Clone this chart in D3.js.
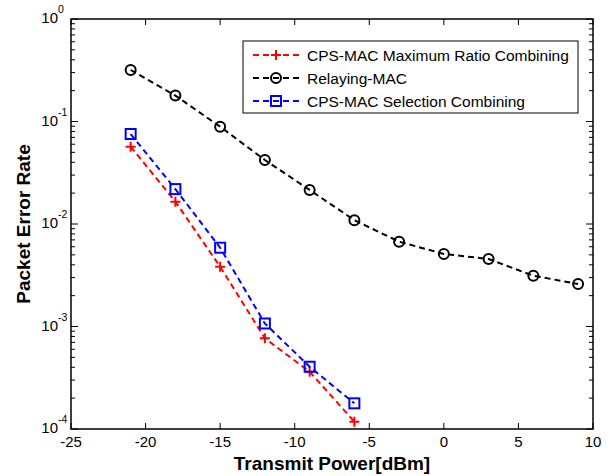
<!DOCTYPE html>
<html>
<head>
<meta charset="utf-8">
<script src="https://cdn.jsdelivr.net/npm/d3@7"></script>
<style>
  body { margin: 0; background: #fff; }
  svg { font-family: "Liberation Sans", Arial, sans-serif; }
</style>
</head>
<body>
<svg width="615" height="476"></svg>
<script>
document.addEventListener("DOMContentLoaded", function () {

  var power = [-21, -18, -15, -12, -9, -6, -3, 0, 3, 6, 9]
  var mrcPer = [0.0568, 0.0165, 0.00383, 0.000767, 0.000362, 0.000118]
  var relayPer = [0.318, 0.179, 0.089, 0.0421, 0.0215, 0.0109, 0.00672, 0.0051, 0.00456, 0.00313, 0.0026]
  var scPer = [0.0755, 0.0219, 0.00587, 0.00107, 0.000405, 0.000178]
  var xTicks = [-25, -20, -15, -10, -5, 0, 5, 10]
  var yTicks = [0, -1, -2, -3, -4]

  var series = [
    { name: "CPS-MAC Maximum Ratio Combining", color: "#ff0000", marker: "plus", values: mrcPer },
    { name: "Relaying-MAC", color: "#000000", marker: "circle", values: relayPer },
    { name: "CPS-MAC Selection Combining", color: "#0000ff", marker: "square", values: scPer }
  ]

  var left = 71, right = 593, top = 19, bottom = 429

  var xScale = d3.scaleLinear().domain([-25, 10]).range([left, right])
  var yScale = d3.scaleLog().domain([1e-4, 1]).range([bottom, top])

  var svg = d3.select("svg")

  // minor log ticks
  var minor = []
  for (var e = -4; e < 0; e++) {
    for (var m = 2; m <= 9; m++) minor.push(m * Math.pow(10, e))
  }
  svg.append("g").selectAll("line")
    .data(minor)
    .enter()
    .append("line")
    .attr("x1", left).attr("x2", left + 4)
    .attr("y1", function (d) { return yScale(d) })
    .attr("y2", function (d) { return yScale(d) })
    .attr("stroke", "#000")
  svg.append("g").selectAll("line")
    .data(minor)
    .enter()
    .append("line")
    .attr("x1", right).attr("x2", right - 4)
    .attr("y1", function (d) { return yScale(d) })
    .attr("y2", function (d) { return yScale(d) })
    .attr("stroke", "#000")

  // major y ticks
  svg.append("g").selectAll("line")
    .data(yTicks)
    .enter()
    .append("line")
    .attr("x1", left).attr("x2", left + 7)
    .attr("y1", function (d) { return yScale(Math.pow(10, d)) })
    .attr("y2", function (d) { return yScale(Math.pow(10, d)) })
    .attr("stroke", "#000")
  svg.append("g").selectAll("line")
    .data(yTicks)
    .enter()
    .append("line")
    .attr("x1", right).attr("x2", right - 7)
    .attr("y1", function (d) { return yScale(Math.pow(10, d)) })
    .attr("y2", function (d) { return yScale(Math.pow(10, d)) })
    .attr("stroke", "#000")

  // x ticks bottom & top
  var xTickLines = svg.append("g")
  xTickLines.selectAll("line.b")
    .data(xTicks)
    .enter()
    .append("line")
    .attr("class", "b")
    .attr("x1", function (d) { return xScale(d) })
    .attr("x2", function (d) { return xScale(d) })
    .attr("y1", bottom).attr("y2", bottom - 6)
    .attr("stroke", "#000")
  xTickLines.selectAll("line.t")
    .data(xTicks)
    .enter()
    .append("line")
    .attr("class", "t")
    .attr("x1", function (d) { return xScale(d) })
    .attr("x2", function (d) { return xScale(d) })
    .attr("y1", top).attr("y2", top + 6)
    .attr("stroke", "#000")

  // frame
  svg.append("rect")
    .attr("x", left).attr("y", top)
    .attr("width", right - left).attr("height", bottom - top)
    .attr("fill", "none")
    .attr("stroke", "#000")
    .attr("stroke-width", 1.5)

  // x tick labels
  svg.append("g").selectAll("text")
    .data(xTicks)
    .enter()
    .append("text")
    .attr("x", function (d) { return xScale(d) })
    .attr("y", 447)
    .attr("text-anchor", "middle")
    .style("font-size", "15px")
    .text(function (d) { return d })

  // y tick labels 10^n
  svg.append("g").selectAll("text")
    .data(yTicks)
    .enter()
    .append("text")
    .attr("x", 58)
    .attr("y", function (d) { return yScale(Math.pow(10, d)) + 4 })
    .attr("text-anchor", "end")
    .style("font-size", "15px")
    .text("10")
  svg.append("g").selectAll("text")
    .data(yTicks)
    .enter()
    .append("text")
    .attr("x", 58)
    .attr("y", function (d) { return yScale(Math.pow(10, d)) - 6 })
    .style("font-size", "10.5px")
    .text(function (d) { return d })

  // axis titles
  svg.append("text")
    .attr("x", (left + right) / 2)
    .attr("y", 470)
    .attr("text-anchor", "middle")
    .style("font-size", "19px")
    .style("font-weight", "bold")
    .text("Transmit Power[dBm]")
  svg.append("text")
    .attr("transform", "translate(30," + (top + bottom) / 2 + ") rotate(-90)")
    .attr("text-anchor", "middle")
    .style("font-size", "19px")
    .style("font-weight", "bold")
    .text("Packet Error Rate")

  function drawMarker(g, type, color) {
    if (type === "plus") {
      g.append("path").attr("d", "M-5,0H5M0,-5V5")
        .attr("stroke", color).attr("stroke-width", 2).attr("fill", "none")
    } else if (type === "circle") {
      g.append("circle").attr("r", 5)
        .attr("stroke", color).attr("stroke-width", 2).attr("fill", "none")
    } else {
      g.append("rect").attr("x", -5).attr("y", -5).attr("width", 10).attr("height", 10)
        .attr("stroke", color).attr("stroke-width", 2).attr("fill", "none")
    }
  }

  var line = d3.line()
    .x(function (d, i) { return xScale(power[i]) })
    .y(function (d) { return yScale(d) })

  series.forEach(function (s) {
    svg.append("path")
      .datum(s.values)
      .attr("d", line)
      .attr("fill", "none")
      .attr("stroke", s.color)
      .attr("stroke-width", 2)
      .attr("stroke-dasharray", "6,4")
    svg.append("g").selectAll("g")
      .data(s.values)
      .enter()
      .append("g")
      .attr("transform", function (d, i) {
        return "translate(" + xScale(power[i]) + "," + yScale(d) + ")"
      })
      .each(function () { drawMarker(d3.select(this), s.marker, s.color) })
  })

  // legend
  var legend = svg.append("g")
  legend.append("rect")
    .attr("x", 243).attr("y", 41)
    .attr("width", 335).attr("height", 72)
    .attr("fill", "#fff")
    .attr("stroke", "#000")
  series.forEach(function (s, i) {
    var y = 55 + i * 23
    legend.append("line")
      .attr("x1", 253).attr("x2", 299)
      .attr("y1", y).attr("y2", y)
      .attr("stroke", s.color)
      .attr("stroke-width", 2)
      .attr("stroke-dasharray", "6,4")
    var g = legend.append("g").attr("transform", "translate(276," + y + ")")
    drawMarker(g, s.marker, s.color)
    legend.append("text")
      .attr("x", 307).attr("y", y + 5.5)
      .style("font-size", "15.5px")
      .text(s.name)
  })

});
</script>
</body>
</html>
